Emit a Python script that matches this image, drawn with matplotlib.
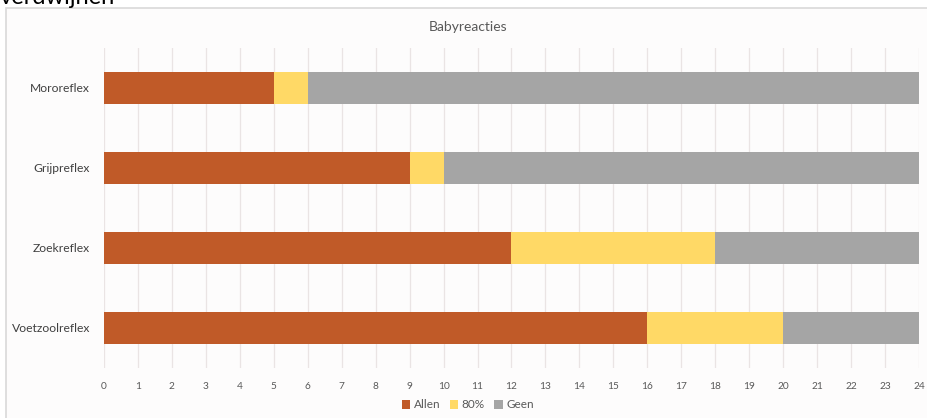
import numpy as np
import matplotlib.pyplot as plt
from matplotlib.patches import Rectangle

plt.rcParams['font.family'] = ['Lato', 'DejaVu Sans']

reflexes = ['Voetzoolreflex', 'Zoekreflex', 'Grijpreflex', 'Mororeflex']
allen = [16, 12, 9, 5]
tachtig = [4, 6, 1, 1]
geen = [4, 6, 14, 18]

kleuren = ['#C05A28', '#FFD966', '#A5A5A5']
labels = ['Allen', '80%', 'Geen']

fig = plt.figure(figsize=(9.28, 4.18), dpi=100)
fig.patch.set_facecolor('white')

# chart frame, drawn on an empty axes behind everything
bg = fig.add_axes([0, 0, 1, 1], zorder=-5)
bg.set_axis_off()
bg.set_xlim(0, 928)
bg.set_ylim(418, 0)
bg.add_patch(Rectangle((6, 8), 940, 430, facecolor='#FDFCFC',
                       edgecolor='#D9D9D9', linewidth=1.2))

# heading above the chart, partly cut off
fig.text(0.0, 1 - 4 / 418, 'verdwijnen', fontsize=17, color='black',
         ha='left', va='baseline')

ax = fig.add_axes([104 / 928, 1 - 368 / 418, (919 - 104) / 928, 320 / 418])
ax.set_facecolor('none')

y = np.arange(len(reflexes))
links = np.zeros(len(reflexes))
for waarden, kleur, lab in zip([allen, tachtig, geen], kleuren, labels):
    ax.barh(y, waarden, left=links, height=0.4, color=kleur, label=lab, zorder=3)
    links = links + np.array(waarden)

ax.set_xlim(0, 24)
ax.set_ylim(-0.5, len(reflexes) - 0.5)
ax.set_xticks(range(0, 25))
ax.set_yticks(y)
ax.set_yticklabels(reflexes, fontsize=8.7, color='#404040')
ax.tick_params(axis='x', labelsize=7.3, colors='#595959', length=0, pad=10)
ax.tick_params(axis='y', length=0, pad=10)
ax.grid(axis='x', color='#EAE4E4', linewidth=0.9, zorder=0)
for s in ax.spines.values():
    s.set_visible(False)

fig.text(468 / 928, 1 - 27 / 418, 'Babyreacties', fontsize=10, color='#595959',
         ha='center', va='center')

fig.legend(loc='center', bbox_to_anchor=(468 / 928, 1 - 405 / 418), ncol=3,
           frameon=False, fontsize=8.5, handlelength=0.7, handleheight=0.7,
           handletextpad=0.3, columnspacing=0.8, labelcolor='#595959')

fig.savefig('out.png', dpi=100)
